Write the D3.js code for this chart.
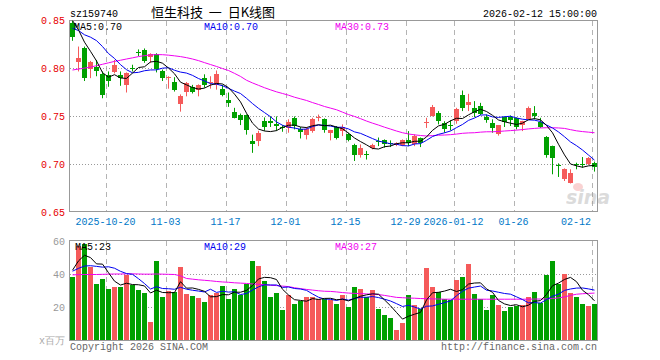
<!DOCTYPE html>
<html>
<head>
<meta charset="utf-8">
<script src="https://cdn.jsdelivr.net/npm/d3@7"></script>
<style>
  body { margin: 0; background: #fff; }
  text { font-family: "Liberation Mono", "DejaVu Sans Mono", monospace; font-size: 10px; }
</style>
</head>
<body>
<div id="chart"></div>
<script>
// trading days shown (88 candles)
const dates = [
  "2025-10-10",
  "2025-10-13","2025-10-14","2025-10-15","2025-10-16","2025-10-17",
  "2025-10-20","2025-10-21","2025-10-22","2025-10-23","2025-10-24",
  "2025-10-27","2025-10-28","2025-10-29","2025-10-30","2025-10-31",
  "2025-11-03","2025-11-04","2025-11-05","2025-11-06","2025-11-07",
  "2025-11-10","2025-11-11","2025-11-12","2025-11-13","2025-11-14",
  "2025-11-17","2025-11-18","2025-11-19","2025-11-20","2025-11-21",
  "2025-11-24","2025-11-25","2025-11-26","2025-11-27","2025-11-28",
  "2025-12-01","2025-12-02","2025-12-03","2025-12-04","2025-12-05",
  "2025-12-08","2025-12-09","2025-12-10","2025-12-11","2025-12-12",
  "2025-12-15","2025-12-16","2025-12-17","2025-12-18","2025-12-19",
  "2025-12-22","2025-12-23","2025-12-24","2025-12-25","2025-12-26",
  "2025-12-29","2025-12-30","2025-12-31",
  "2026-01-05","2026-01-06","2026-01-07","2026-01-08","2026-01-09",
  "2026-01-12","2026-01-13","2026-01-14","2026-01-15","2026-01-16",
  "2026-01-19","2026-01-20","2026-01-21","2026-01-22","2026-01-23",
  "2026-01-26","2026-01-27","2026-01-28","2026-01-29","2026-01-30",
  "2026-02-02","2026-02-03","2026-02-04","2026-02-05","2026-02-06",
  "2026-02-09","2026-02-10","2026-02-11","2026-02-12"
];

const open = [
  0.848,0.807,0.822,0.800,0.802,0.794,0.793,0.797,0.793,0.783,
  0.801,0.817,0.819,0.812,0.815,0.797,0.790,0.786,0.763,0.776,
  0.781,0.778,0.790,0.786,0.783,0.779,0.767,0.755,0.751,0.751,
  0.724,0.725,0.745,0.745,0.742,0.739,0.738,0.748,0.7365,0.731,
  0.735,0.748,0.747,0.733,0.739,0.7347,0.732,0.720,0.7097,0.711,
  0.7167,0.724,0.7253,0.722,0.720,0.720,0.7253,0.7208,0.727,0.743,
  0.750,0.754,0.7434,0.741,0.7444,0.7722,0.7625,0.759,0.7608,0.7493,
  0.7434,0.7313,0.7493,0.749,0.7486,0.741,0.7479,0.7538,0.7444,0.7285,
  0.7191,0.6995,0.6844,0.6809,0.7003,0.7003,0.700,0.7017
];
const high = [
  0.850,0.823,0.823,0.808,0.809,0.797,0.797,0.809,0.797,0.796,
  0.804,0.820,0.821,0.816,0.816,0.799,0.792,0.791,0.773,0.786,
  0.783,0.7835,0.794,0.792,0.798,0.783,0.775,0.759,0.753,0.752,
  0.731,0.735,0.749,0.750,0.750,0.741,0.747,0.750,0.739,0.739,
  0.7486,0.752,0.748,0.736,0.740,0.7417,0.733,0.7215,0.7208,0.714,
  0.7215,0.728,0.726,0.725,0.723,0.726,0.7347,0.7313,0.728,0.7486,
  0.762,0.7556,0.745,0.746,0.759,0.7771,0.7736,0.766,0.7642,0.752,
  0.747,0.741,0.750,0.751,0.749,0.7455,0.7604,0.7608,0.7486,0.7295,
  0.7195,0.701,0.6958,0.6948,0.7017,0.7076,0.7076,0.7028
];
const low = [
  0.829,0.797,0.787,0.790,0.792,0.769,0.781,0.795,0.782,0.775,
  0.797,0.813,0.806,0.806,0.796,0.787,0.779,0.776,0.755,0.771,
  0.774,0.771,0.780,0.779,0.778,0.771,0.760,0.748,0.741,0.731,
  0.712,0.719,0.735,0.739,0.735,0.734,0.733,0.7365,0.727,0.726,
  0.733,0.745,0.733,0.725,0.726,0.7295,0.724,0.7035,0.707,0.705,
  0.7156,0.719,0.7174,0.718,0.719,0.719,0.719,0.719,0.718,0.738,
  0.750,0.7417,0.733,0.7354,0.7424,0.7556,0.7556,0.7493,0.7514,0.7434,
  0.733,0.730,0.739,0.740,0.7365,0.7347,0.7469,0.7469,0.738,0.7069,
  0.6896,0.6868,0.6826,0.680,0.6948,0.6965,0.6993,0.6924
];
const close = [
  0.833,0.811,0.791,0.807,0.798,0.772,0.787,0.804,0.790,0.7955,
  0.800,0.816,0.808,0.815,0.799,0.790,0.791,0.778,0.771,0.785,
  0.776,0.783,0.783,0.7865,0.794,0.773,0.764,0.749,0.746,0.735,
  0.721,0.733,0.739,0.743,0.740,0.738,0.744,0.740,0.733,0.737,
  0.7476,0.749,0.735,0.736,0.727,0.739,0.726,0.7094,0.7174,0.710,
  0.7201,0.723,0.7215,0.721,0.722,0.7253,0.7226,0.7295,0.7215,0.744,
  0.7597,0.746,0.7375,0.740,0.7573,0.7583,0.7653,0.7538,0.7528,0.7458,
  0.7382,0.741,0.7444,0.7455,0.739,0.7451,0.759,0.7503,0.7389,0.7097,
  0.7069,0.699,0.6948,0.6913,0.700,0.6997,0.7062,0.6972
];
// closes of the 9 sessions before the first visible one (for MA5 / MA10)
const priorClose = [0.835,0.835,0.832,0.834,0.834,0.860,0.855,0.855,0.848];

// MA30 of price
const ma30 = [
  0.7985,0.7995,0.8005,0.8015,0.803,0.8045,0.806,0.8075,0.8087,0.81,
  0.8112,0.8125,0.8135,0.8142,0.8146,0.8145,0.814,0.8133,0.8125,0.8114,
  0.81,0.8083,0.8062,0.8042,0.8022,0.8,0.798,0.795,0.7918,0.7878,
  0.785,0.7825,0.78,0.7778,0.7757,0.774,0.7722,0.7701,0.7684,0.7667,
  0.7645,0.7625,0.7604,0.7587,0.757,0.7545,0.752,0.75,0.7477,0.7452,
  0.743,0.741,0.7388,0.7368,0.7348,0.733,0.7317,0.7308,0.7301,0.7296,
  0.73,0.7304,0.7306,0.731,0.7316,0.7324,0.7328,0.733,0.7336,0.734,
  0.734,0.7343,0.7348,0.7352,0.7357,0.7363,0.737,0.7375,0.738,0.7382,
  0.7382,0.738,0.7375,0.7362,0.735,0.7342,0.7336,0.733
];

// volume, millions of shares
const volume = [
  38.0,57,58,44.1,33.9,37.3,31.2,32.4,32.4,39.4,
  33.3,30.6,28.8,11.2,47.8,26.3,30.0,29.2,44.1,28.2,
  26.9,25.7,23.3,27.6,28.8,33.1,25.1,31.2,27.3,34.3,
  47.8,44.9,36.1,26.3,28.8,18.4,27.6,22.0,24.1,26.3,
  26.3,25.1,25.1,24.5,22.0,27.6,20.2,32.4,31.2,26.3,
  30.6,19.0,15.3,13.5,6.1,10.6,27.6,21.4,19.0,43.5,
  32.4,29.0,25.1,24.5,36.7,38.0,45.9,28.2,25.1,18.4,
  27.6,21.4,17.8,20.2,20.8,21.4,26.3,29.4,22.4,39.2,
  47.8,34.3,40.4,28.6,26.3,22.0,20.8,22.0
];
const priorVolume = [40,44,42,38,42,29,41,51.1,52.9];
const volMa30 = [
  39.6,39.7,39.8,39.8,39.8,39.9,40.0,40.1,40.1,40.2,
  40.2,40.1,40.0,40.0,40.1,40.0,39.9,39.8,39.0,37.4,
  37.0,36.6,36.3,36.0,35.6,35.3,35.1,34.8,34.6,34.4,
  34.1,33.9,33.6,33.3,33.1,32.8,32.5,31.8,31.3,30.8,
  30.4,30.0,29.7,29.6,29.3,28.9,28.6,28.4,28.3,28.1,
  27.9,27.7,27.2,26.6,26.0,25.8,25.6,25.5,25.3,25.2,
  25.1,25.0,24.9,24.9,24.9,24.9,24.9,24.9,24.9,24.9,
  24.9,24.9,24.9,24.9,24.9,24.9,24.9,25.0,25.0,25.1,
  25.3,25.7,26.3,27.2,27.9,28.2,28.4,28.6
];

const tickDates = ["2025-10-20","2025-11-03","2025-11-17","2025-12-01","2025-12-15","2025-12-29","2026-01-12","2026-01-26","2026-02-12"];
const tickLabels = ["2025-10-20","11-03","11-17","12-01","12-15","12-29","2026-01-12","01-26","02-12"];
const priceTicks = [0.85, 0.80, 0.75, 0.70, 0.65];
const volTicks = [60, 40, 20];

const RED = "#f55a5a", GREEN = "#00a000";
const C5 = "#000", C10 = "#0000f0", C30 = "#f000f0";

function movingAvg(prior, values, n) {
  const all = prior.concat(values);
  return values.map((v, i) => d3.mean(all.slice(i + prior.length - n + 1, i + prior.length + 1)));
}
const ma5 = movingAvg(priorClose, close, 5);
const ma10 = movingAvg(priorClose, close, 10);
const vma5 = movingAvg(priorVolume, volume, 5);
const vma10 = movingAvg(priorVolume, volume, 10);

const width = 660, height = 360;
const left = 70, right = 598;

const svg = d3.select("#chart").append("svg")
    .attr("width", width)
    .attr("height", height);

const x = d3.scaleBand().domain(dates).range([left, right]);
const yP = d3.scaleLinear().domain([0.65, 0.85]).range([212.2, 20.7]);
const yV = d3.scaleLinear().domain([0, 60]).range([340.5, 241]);
const cx = d => x(d) + 2.5;
const snap = v => Math.floor(v) + 0.5;

svg.append("clipPath").attr("id", "clipP")
  .append("rect").attr("x", 70).attr("y", 20.5).attr("width", 528).attr("height", 191);
svg.append("clipPath").attr("id", "clipV")
  .append("rect").attr("x", 70).attr("y", 240.5).attr("width", 528).attr("height", 100);

// header
svg.append("text").attr("x", 70).attr("y", 16.5).text("sz159740");
svg.append("text").attr("x", 151).attr("y", 16.5)
    .attr("xml:space", "preserve")
    .style("font-family", "'Noto Sans CJK SC', sans-serif")
    .style("font-size", "13px")
    .text("恒生科技  一  日K线图");
svg.append("text").attr("x", 597).attr("y", 16.5).attr("text-anchor", "end").text("2026-02-12 15:00:00");

// grid lines
function grid(g, top, bottom, yScale, ticks) {
  g.selectAll("line.v").data(tickDates).join("line")
      .attr("x1", d => x(d) + 0.5).attr("x2", d => x(d) + 0.5)
      .attr("y1", top).attr("y2", bottom)
      .attr("stroke", "#b4b4b4").attr("stroke-dasharray", "5,4");
  g.selectAll("line.h").data(ticks).join("line")
      .attr("x1", left).attr("x2", 597)
      .attr("y1", d => snap(yScale(d))).attr("y2", d => snap(yScale(d)))
      .attr("stroke", "#999").attr("stroke-dasharray", "1,2");
}
grid(svg.append("g"), 21, 211, yP, [0.80, 0.75, 0.70]);
grid(svg.append("g"), 241, 340, yV, [40, 20]);

// frames
svg.append("rect").attr("x", 69.5).attr("y", 20.5).attr("width", 528).attr("height", 191)
    .attr("fill", "none").attr("stroke", "#999");
svg.append("rect").attr("x", 69.5).attr("y", 240.5).attr("width", 528).attr("height", 100)
    .attr("fill", "none").attr("stroke", "#999");

// axis labels
svg.append("g").selectAll("text").data(priceTicks).join("text")
    .attr("x", 65).attr("y", d => yP(d) + 3.5).attr("text-anchor", "end")
    .attr("fill", "#e60000").text(d => d.toFixed(2));
svg.append("g").selectAll("text").data(volTicks).join("text")
    .attr("x", 65).attr("y", d => yV(d) + 3.5).attr("text-anchor", "end")
    .attr("fill", "#999").text(d => d);
svg.append("text").attr("x", 65).attr("y", 344).attr("text-anchor", "end")
    .attr("fill", "#aaa").text("x百万");
svg.append("g").selectAll("text").data(tickDates).join("text")
    .attr("x", (d, i) => i === tickDates.length - 1 ? x(d) - 1 : x(d) - 0.5)
    .attr("y", 225)
    .attr("text-anchor", (d, i) => i === tickDates.length - 1 ? "end" : "middle")
    .attr("fill", "#0078c8")
    .text((d, i) => tickLabels[i]);

// sina watermark
const wm = svg.append("g").attr("opacity", 0.35);
wm.append("ellipse").attr("cx", 578).attr("cy", 187).attr("rx", 5).attr("ry", 4).attr("fill", "#f08080");
wm.append("text").attr("x", 566).attr("y", 204)
    .style("font-family", "'DejaVu Sans', sans-serif").style("font-size", "19px")
    .style("font-style", "italic").style("font-weight", "bold")
    .attr("fill", "#999").text("sina");

// candles
const candles = svg.append("g").attr("clip-path", "url(#clipP)")
  .selectAll("g").data(dates).join("g");
candles.append("line")
    .attr("x1", cx).attr("x2", cx)
    .attr("y1", (d, i) => yP(high[i])).attr("y2", (d, i) => yP(low[i]))
    .attr("stroke", (d, i) => close[i] >= open[i] ? RED : GREEN);
candles.append("rect")
    .attr("x", d => x(d)).attr("width", 5)
    .attr("y", (d, i) => Math.round(yP(Math.max(open[i], close[i]))))
    .attr("height", (d, i) => Math.max(1, Math.round(Math.abs(yP(open[i]) - yP(close[i])))))
    .attr("fill", (d, i) => close[i] >= open[i] ? RED : GREEN)
    .attr("shape-rendering", "crispEdges");

// volume bars
svg.append("g").selectAll("rect").data(dates).join("rect")
    .attr("x", d => x(d)).attr("width", 5)
    .attr("y", (d, i) => Math.round(yV(volume[i])))
    .attr("height", (d, i) => 340 - Math.round(yV(volume[i])))
    .attr("fill", (d, i) => close[i] >= open[i] ? RED : GREEN)
    .attr("shape-rendering", "crispEdges");

// moving average lines
function maLine(g, values, yScale, color) {
  g.append("path")
      .datum(values)
      .attr("fill", "none").attr("stroke", color).attr("stroke-width", 1)
      .attr("d", d3.line().x((d, i) => cx(dates[i])).y(d => yScale(d)));
}
const gP = svg.append("g").attr("clip-path", "url(#clipP)");
maLine(gP, ma30, yP, C30);
maLine(gP, ma10, yP, C10);
maLine(gP, ma5, yP, C5);
const gV = svg.append("g").attr("clip-path", "url(#clipV)");
maLine(gV, volMa30, yV, C30);
maLine(gV, vma10, yV, C10);
maLine(gV, vma5, yV, C5);

// MA legends
svg.append("text").attr("x", 74).attr("y", 29.5).attr("fill", C5).text("MA5:0.70");
svg.append("text").attr("x", 204).attr("y", 29.5).attr("fill", C10).text("MA10:0.70");
svg.append("text").attr("x", 335).attr("y", 29.5).attr("fill", C30).text("MA30:0.73");
svg.append("text").attr("x", 75).attr("y", 250).attr("fill", C5).text("MA5:23");
svg.append("text").attr("x", 204).attr("y", 250).attr("fill", C10).text("MA10:29");
svg.append("text").attr("x", 335).attr("y", 250).attr("fill", C30).text("MA30:27");

// footer
svg.append("text").attr("x", 70).attr("y", 349.5).attr("fill", "#666").text("Copyright 2026 SINA.COM");
svg.append("text").attr("x", 597).attr("y", 349.5).attr("text-anchor", "end").attr("fill", "#666").text("http://finance.sina.com.cn");
</script>
</body>
</html>
